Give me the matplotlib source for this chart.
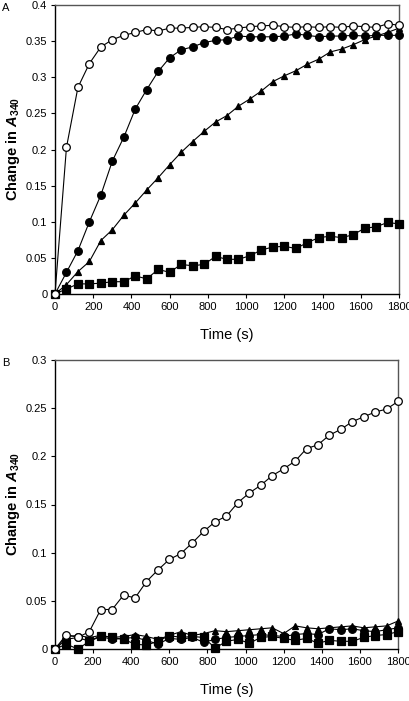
import matplotlib
matplotlib.use("Agg")
import matplotlib.pyplot as plt
import numpy as np

plt.rcParams['font.family'] = ['Liberation Sans', 'DejaVu Sans']
plt.rcParams['mathtext.fontset'] = 'custom'
plt.rcParams['mathtext.it'] = 'Liberation Sans:italic:bold'
plt.rcParams['mathtext.rm'] = 'Liberation Sans:bold'
plt.rcParams['mathtext.bf'] = 'Liberation Sans:bold'

time_s = list(range(0, 1801, 60))

# Panel A
a_open = [0, 0.203, 0.286, 0.319, 0.342, 0.352, 0.358, 0.362, 0.366, 0.364, 0.368, 0.368,
          0.369, 0.370, 0.369, 0.366, 0.368, 0.370, 0.371, 0.372, 0.370, 0.369, 0.370,
          0.369, 0.370, 0.369, 0.371, 0.370, 0.369, 0.374, 0.372]
a_filled = [0, 0.030, 0.060, 0.100, 0.137, 0.184, 0.217, 0.256, 0.283, 0.308, 0.327, 0.338,
            0.342, 0.348, 0.351, 0.352, 0.357, 0.356, 0.356, 0.356, 0.357, 0.360, 0.358,
            0.356, 0.357, 0.357, 0.358, 0.357, 0.358, 0.358, 0.358]
a_tri = [0, 0.013, 0.031, 0.045, 0.074, 0.089, 0.109, 0.126, 0.144, 0.161, 0.179, 0.196,
         0.211, 0.225, 0.238, 0.247, 0.260, 0.270, 0.281, 0.294, 0.302, 0.309, 0.318,
         0.325, 0.335, 0.339, 0.345, 0.352, 0.357, 0.362, 0.368]
a_sq = [0, 0.007, 0.014, 0.014, 0.015, 0.017, 0.017, 0.025, 0.021, 0.034, 0.030, 0.041,
        0.039, 0.041, 0.052, 0.048, 0.048, 0.053, 0.061, 0.065, 0.066, 0.063, 0.071,
        0.078, 0.080, 0.078, 0.082, 0.091, 0.093, 0.099, 0.097]

# Panel B
b_open = [0, 0.015, 0.012, 0.018, 0.041, 0.041, 0.056, 0.053, 0.070, 0.082, 0.093, 0.099,
          0.110, 0.122, 0.132, 0.138, 0.152, 0.162, 0.170, 0.180, 0.187, 0.195, 0.208,
          0.212, 0.222, 0.228, 0.236, 0.241, 0.246, 0.249, 0.257]
b_filled = [0, 0.010, 0.012, 0.008, 0.013, 0.010, 0.011, 0.012, 0.009, 0.005, 0.011, 0.010,
            0.012, 0.007, 0.010, 0.012, 0.013, 0.014, 0.015, 0.014, 0.013, 0.015, 0.016,
            0.015, 0.021, 0.020, 0.021, 0.019, 0.018, 0.020, 0.022]
b_tri = [0, 0.013, 0.014, 0.012, 0.014, 0.012, 0.013, 0.015, 0.013, 0.010, 0.014, 0.018,
         0.014, 0.016, 0.019, 0.018, 0.019, 0.020, 0.021, 0.022, 0.016, 0.024, 0.022,
         0.021, 0.022, 0.023, 0.024, 0.022, 0.023, 0.024, 0.029]
b_sq = [0, 0.005, 0.000, 0.008, 0.014, 0.012, 0.010, 0.005, 0.004, 0.008, 0.014, 0.012,
        0.013, 0.012, 0.001, 0.008, 0.010, 0.006, 0.012, 0.013, 0.011, 0.009, 0.011,
        0.006, 0.009, 0.008, 0.008, 0.012, 0.014, 0.015, 0.018]

x_ticks = list(range(0, 1801, 200))
a_yticks = [0, 0.05, 0.1, 0.15, 0.2, 0.25, 0.3, 0.35, 0.4]
b_yticks = [0, 0.05, 0.1, 0.15, 0.2, 0.25, 0.3]

fig = plt.figure(figsize=(4.10, 7.01), dpi=100)
W, H = 410, 701
axA = fig.add_axes([55 / W, 1 - 294 / H, 344 / W, 289 / H])
axB = fig.add_axes([55 / W, 1 - 649 / H, 343 / W, 289 / H])

def fmt(v):
    if v == 0:
        return '0'
    return '%g' % v

def style(ax, ymax, yticks, width_px):
    ax.set_xlim(0, 1800)
    ax.set_ylim(0, ymax)
    ax.set_xticks(x_ticks)
    ax.set_yticks(yticks)
    ax.set_yticklabels([fmt(v) for v in yticks])
    ax.tick_params(direction='out', length=3, width=0.8, labelsize=8, pad=2.5, colors='black')
    for sp in ['left', 'bottom']:
        ax.spines[sp].set_color('black')
        ax.spines[sp].set_linewidth(1.0)
    for sp in ['top', 'right']:
        ax.spines[sp].set_color('#555555')
        ax.spines[sp].set_linewidth(1.0)
    ax.set_xlabel('Time (s)', fontsize=10.5, labelpad=12)
    ax.set_ylabel(r'Change in $\mathit{A}_{\mathrm{340}}$', fontsize=10.5, fontweight='bold')
    ax.yaxis.set_label_coords(-33 / width_px, 0.5)

def plot_series(ax, openv, filledv, tri, sq):
    kw = dict(color='black', lw=0.8, markeredgecolor='black', markeredgewidth=0.9, clip_on=False, zorder=3)
    ax.plot(time_s, sq, marker='s', ms=5.2, markerfacecolor='black', **kw)
    ax.plot(time_s, tri, marker='^', ms=5.0, markerfacecolor='black', **kw)
    ax.plot(time_s, filledv, marker='o', ms=5.5, markerfacecolor='black', **kw)
    ax.plot(time_s, openv, marker='o', ms=5.5, markerfacecolor='white', **kw)

plot_series(axA, a_open, a_filled, a_tri, a_sq)
plot_series(axB, b_open, b_filled, b_tri, b_sq)
style(axA, 0.4, a_yticks, 344)
style(axB, 0.3, b_yticks, 343)

fig.text(2 / W, 1 - 8 / H, 'A', fontsize=8, ha='left', va='center')
fig.text(2 / W, 1 - 363 / H, 'B', fontsize=8, ha='left', va='center')

fig.savefig('out.png', dpi=100)
